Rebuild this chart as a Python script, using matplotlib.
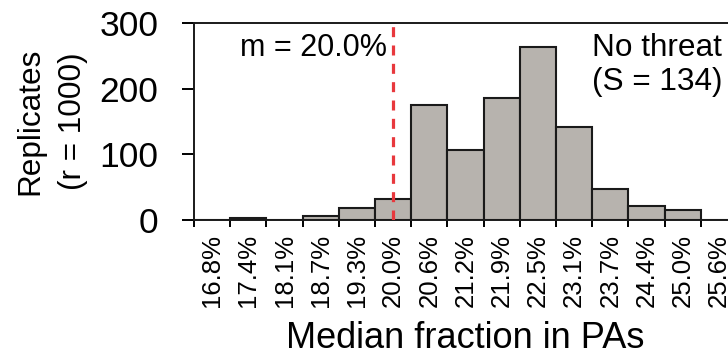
import matplotlib
matplotlib.use("Agg")
import matplotlib.pyplot as plt
import numpy as np

plt.rcParams['font.family'] = ['Liberation Sans', 'DejaVu Sans']
plt.rcParams['lines.scale_dashes'] = False

bin_labels = ["16.8%", "17.4%", "18.1%", "18.7%", "19.3%", "20.0%", "20.6%",
              "21.2%", "21.9%", "22.5%", "23.1%", "23.7%", "24.4%", "25.0%", "25.6%"]
counts = [0, 3, 0, 6, 18, 32, 175, 107, 185, 263, 142, 47, 22, 15, 0]
median_label = "20.0%"
species_count = 134

fig = plt.figure(figsize=(7.28, 3.56), dpi=100)
W, H = 728, 356
x0, y_top, y_bot, bw = 194, 22.7, 220.3, 36.2
nb = len(bin_labels)
ax = fig.add_axes([x0 / W, (H - y_bot) / H, nb * bw / W, (y_bot - y_top) / H])

idx = np.arange(nb)
ax.bar(idx, counts, width=1.0, align='edge', color='#b7b3ae',
       edgecolor='#1a1a1a', linewidth=1.5, zorder=2)

m_pos = bin_labels.index(median_label) + 0.5
ax.axvline(m_pos, color='#e8383d', linewidth=2.3, dashes=(7.2, 6.0), zorder=3)

ax.set_xlim(0, nb)
ax.set_ylim(0, 300)
ax.set_yticks([0, 100, 200, 300])
ax.set_xticks(np.arange(nb + 1))
ax.set_xticklabels([])
ax.set_xticks(idx + 0.5, minor=True)
ax.set_xticklabels(bin_labels, minor=True, rotation=90, fontsize=18.5)
ax.tick_params(axis='x', which='minor', length=0, pad=10)
ax.tick_params(axis='x', which='major', length=5, width=1.4, direction='out')
ax.tick_params(axis='y', length=8.5, width=1.4, labelsize=25.5, pad=17)
for s in ax.spines.values():
    s.set_linewidth(1.4)
    s.set_color('#1a1a1a')

ax.set_ylabel("Replicates\n(r = 1000)", fontsize=22.7, labelpad=8, linespacing=1.55)
ax.set_xlabel("Median fraction in PAs", fontsize=26, labelpad=10)

ax.text(m_pos - 0.17, 261, "m = " + median_label, ha='right', va='center', fontsize=22)
ax.text(12.79, 236, "No threat\n(S = %d)" % species_count, ha='center', va='center',
        multialignment='center', fontsize=22.7, linespacing=1.15)

fig.savefig("out.png", dpi=100)
